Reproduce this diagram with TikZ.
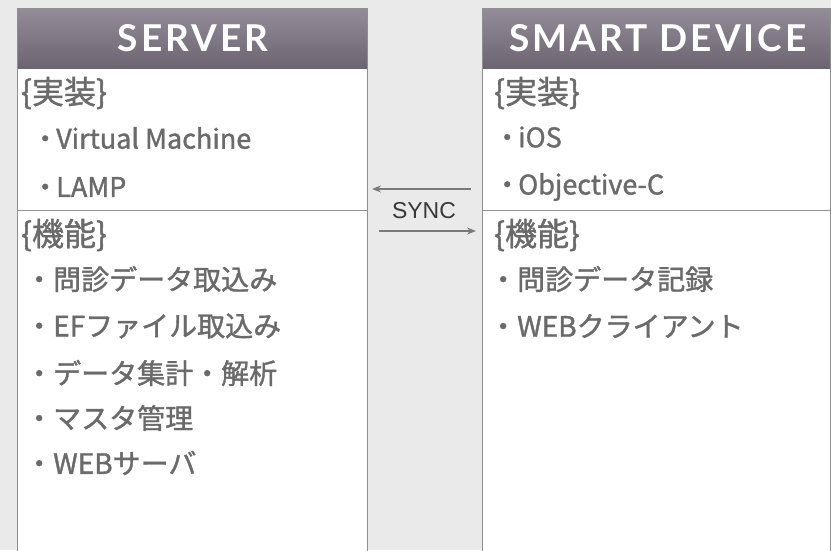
\documentclass[tikz,border=0pt]{standalone}
\usepackage{fontspec}
\usetikzlibrary{arrows.meta}
\setmainfont{Noto Sans CJK JP}
\newfontfamily\bodyfont{Noto Sans CJK JP}[FakeBold=1.3]
\newfontfamily\hdfont{Lato}[BoldFont=* Bold,LetterSpace=8]
\newfontfamily\syncfont{Liberation Sans}
\begin{document}
\begin{tikzpicture}[x=1pt,y=-1pt,
  hdr/.style={top color=hdtop,bottom color=hdbot,draw=none},
  boxline/.style={draw=boxgray,line width=0.8pt},
  hdtext/.style={text=white,font=\hdfont\bfseries\fontsize{37}{40}\selectfont,inner sep=0pt},
  sect/.style={anchor=west,text=txtgray,font=\bodyfont\fontsize{32}{34}\selectfont,inner sep=0pt},
  item/.style={anchor=west,text=txtgray,font=\bodyfont\fontsize{28}{30}\selectfont,inner sep=0pt},
  litem/.style={item,font=\bodyfont\fontsize{27}{30}\selectfont},
  syncarrow/.style={draw=arrgray,line width=1.8pt,-{Stealth[length=9pt,width=7pt]}}
]
\definecolor{bg}{HTML}{EAEAEA}
\definecolor{hdtop}{HTML}{958C9A}
\definecolor{hdbot}{HTML}{6C6470}
\definecolor{boxgray}{HTML}{8E9090}
\definecolor{txtgray}{HTML}{6A6A6A}
\definecolor{arrgray}{HTML}{7A7A7A}
\useasboundingbox (0,0) rectangle (831,550);
\fill[bg] (0,0) rectangle (831,550);
% left box
\fill[white] (17,68) rectangle (367,551);
\shade[hdr] (17,8) rectangle (367,68);
\draw[boxline] (17,551) -- (17,8) -- (367,8) -- (367,551);
\draw[boxline] (17,210) -- (367,210);
% right box
\fill[white] (482,68) rectangle (830,551);
\shade[hdr] (482,8) rectangle (830,68);
\draw[boxline] (482,551) -- (482,8) -- (830,8) -- (830,551);
\draw[boxline] (482,210) -- (830,210);
% headers
\node[hdtext] (server) at (193,38) {SERVER};
\node[hdtext] (device) at (658,38) {SMART DEVICE};
% left contents
\node[sect] (l1) at (21,93) {\{実装\}};
\node[litem] (l2) at (34,138) {\makebox[22pt][c]{・}Virtual Machine};
\node[litem] (l3) at (34,187) {\makebox[22pt][c]{・}LAMP};
\node[sect] (l4) at (21,235) {\{機能\}};
\node[item] (l5) at (25,279) {・問診データ取込み};
\node[item] (l6) at (25,326) {・EFファイル取込み};
\node[item] (l7) at (25,373) {・データ集計・解析};
\node[item] (l8) at (25,418) {・マスタ管理};
\node[item] (l9) at (25,463) {・WEBサーバ};
% right contents
\node[sect] (r1) at (494,93) {\{実装\}};
\node[litem] (r2) at (496,137) {\makebox[22pt][c]{・}iOS};
\node[litem] (r3) at (496,187) {\makebox[22pt][c]{・}Objective-C};
\node[sect] (r4) at (494,235) {\{機能\}};
\node[item] (r5) at (489,279) {・問診データ記録};
\node[item] (r6) at (489,326) {・WEBクライアント};
% sync
\node[text=black!78,font=\syncfont\fontsize{23}{26}\selectfont,inner sep=0pt] (sync) at (424,211) {SYNC};
\coordinate (a1s) at (471,189);
\coordinate (a1e) at (372,189);
\coordinate (a2s) at (379,231);
\coordinate (a2e) at (476,231);
\draw[syncarrow] (a1s) -- (a1e);
\draw[syncarrow] (a2s) -- (a2e);
\end{tikzpicture}
\end{document}
